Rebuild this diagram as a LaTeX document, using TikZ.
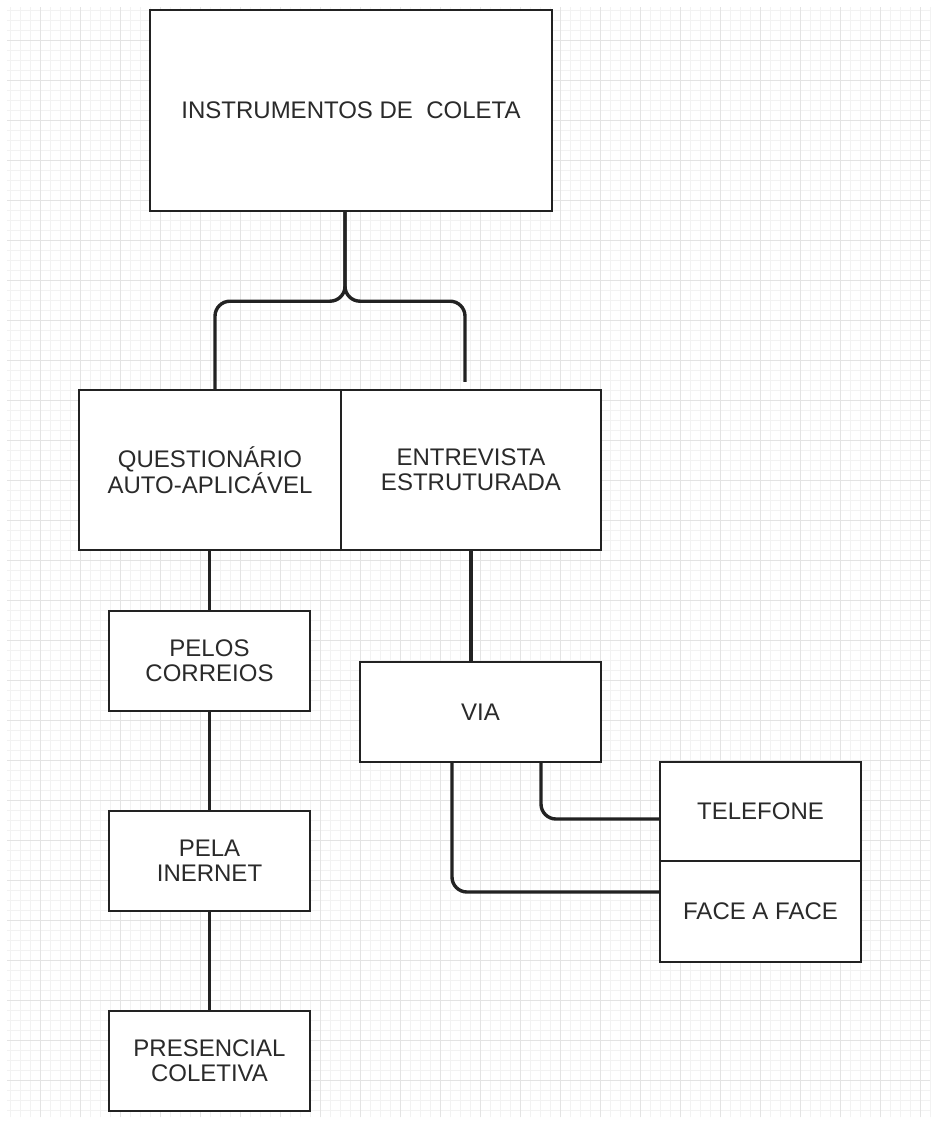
\documentclass[tikz,border=0pt]{standalone}
\usepackage{fontspec}
\setmainfont{Liberation Sans}
\usepackage{tikz}

\definecolor{ink}{HTML}{222222}
\definecolor{txt}{HTML}{2A2A2A}

\tikzset{
  box/.style={draw=ink, line width=2.4pt, fill=white, align=center, text=txt,
    font=\fontsize{24}{25}\selectfont, inner sep=0pt},
  link/.style={draw=ink, line width=3.4pt, rounded corners=15pt}
}

\begin{document}
\begin{tikzpicture}[x=1pt, y=-1pt]
        \useasboundingbox (0,0) rectangle (935,1124);
        % background grid
        \fill[white] (0,0) rectangle (935,1124);
        \draw[gray!10, line width=0.6pt, step=10pt] (7,7) grid (930,1117);
        \draw[gray!22, line width=0.8pt, step=40pt] (7,7) grid (930,1117);

        \node[box, minimum width=402pt, minimum height=201pt] (coleta) at (351,110.5) {INSTRUMENTOS DE\ \ COLETA};
        \node[box, minimum width=262pt, minimum height=160pt] (quest) at (210,470) {QUESTIONÁRIO\\AUTO-APLICÁVEL};
        \node[box, minimum width=260pt, minimum height=160pt] (entrev) at (471,470) {ENTREVISTA\\ESTRUTURADA};
        \node[box, minimum width=201pt, minimum height=100pt] (correios) at (209.5,661) {PELOS\\CORREIOS};
        \node[box, minimum width=201pt, minimum height=100pt] (internet) at (209.5,861) {PELA\\INERNET};
        \node[box, minimum width=201pt, minimum height=100pt] (presencial) at (209.5,1061) {PRESENCIAL\\COLETIVA};
        \node[box, minimum width=241pt, minimum height=100pt] (via) at (480.5,712) {VIA};
        \node[box, minimum width=201pt, minimum height=99pt] (telefone) at (760.5,811.5) {TELEFONE};
        \node[box, minimum width=201pt, minimum height=101pt] (face) at (760.5,911.5) {FACE A FACE};

        % brace from the top box
        \coordinate (split) at ([xshift=-6pt, yshift=-89pt]coleta.south);
        \draw[link] ([xshift=-6pt]coleta.south) -- (split) -- ([xshift=5pt]quest.north |- split) -- ([xshift=5pt]quest.north);
        \draw[link] ([xshift=-6pt]coleta.south) -- (split) -- ([xshift=-6pt]entrev.north |- split) -- ([xshift=-6pt, yshift=7pt]entrev.north);

        % questionnaire branch
        \draw[link] (correios.north |- quest.south) -- (correios.north);
        \draw[link] (correios.south) -- (internet.north);
        \draw[link] (internet.south) -- (presencial.north);

        % interview branch
        \draw[link] (entrev.south) -- (entrev.south |- via.north);
        \draw[link] ([xshift=60.5pt]via.south) |- ([yshift=-7.5pt]telefone.west);
        \draw[link] ([xshift=-28.5pt]via.south) |- ([yshift=19.5pt]face.west);
\end{tikzpicture}
\end{document}
